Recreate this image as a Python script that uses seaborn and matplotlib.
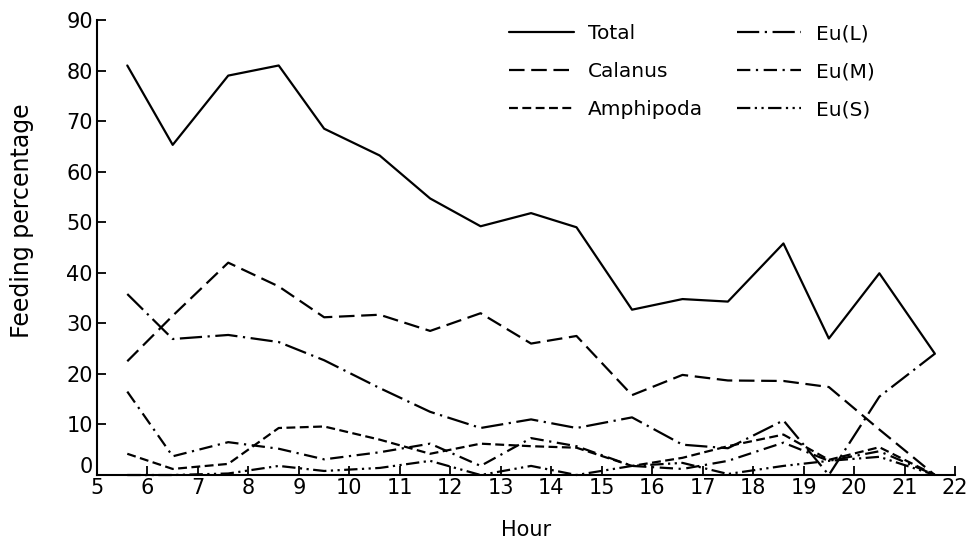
import pandas as pd
import seaborn as sns
import matplotlib.pyplot as plt
from matplotlib.transforms import ScaledTranslation

# Hour of sampling (mid-points of the hourly bins)
hours = [5.6, 6.5, 7.6, 8.6, 9.5, 10.6, 11.6, 12.6, 13.6, 14.5, 15.6, 16.6, 17.5, 18.6, 19.5, 20.5, 21.6]

# Feeding percentage
total = [81, 65.3, 79, 81, 68.5, 63.2, 54.7, 49.2, 51.8, 49, 32.7, 34.8, 34.3, 45.8, 27, 39.9, 24]
calanus = [22.5, 31.5, 42, 37.3, 31.2, 31.7, 28.5, 32, 26, 27.5, 15.8, 19.8, 18.7, 18.6, 17.4, 9, 0]
amphipoda = [4.2, 1.2, 2.2, 9.3, 9.6, 7, 4.2, 6.2, 5.7, 5.4, 1.8, 3.4, 5.7, 8, 3, 5.5, 0]
eu_l = [35.8, 26.9, 27.7, 26.3, 22.7, 17.2, 12.5, 9.3, 11, 9.3, 11.4, 6, 5.3, 10.8, 0, 15.5, 24]
eu_m = [16.5, 3.7, 6.5, 5.2, 3.1, 4.5, 6.2, 1.8, 7.3, 5.7, 1.8, 1.2, 2.8, 6.4, 2.8, 4.7, 0]
eu_s = [0, 0, 0.3, 1.8, 0.8, 1.4, 2.8, 0, 1.8, 0, 1.8, 2.4, 0.2, 1.8, 2.8, 3.6, 0]

series = {
    "Total": total,
    "Calanus": calanus,
    "Amphipoda": amphipoda,
    "Eu(L)": eu_l,
    "Eu(M)": eu_m,
    "Eu(S)": eu_s,
}

rows = []
for name, vals in series.items():
    for h, v in zip(hours, vals):
        rows.append({"Hour": h, "Feeding": v, "Series": name})
df = pd.DataFrame(rows)

dash_map = {
    "Total": "",
    "Calanus": (7, 3),
    "Amphipoda": (4, 2),
    "Eu(L)": (10, 2.5, 1, 2.5),
    "Eu(M)": (6, 2.5, 1, 2.5),
    "Eu(S)": (6, 2, 1, 2, 1, 2),
}

sns.set_style("ticks")
plt.rcParams["font.family"] = ["DejaVu Sans"]
plt.rcParams.update({"text.color": "black", "axes.labelcolor": "black",
                     "xtick.color": "black", "ytick.color": "black",
                     "axes.edgecolor": "black"})

fig = plt.figure(figsize=(9.69, 5.43), dpi=100)
ax = fig.add_axes([0.1001, 0.1252, 0.8855, 0.838])

sns.lineplot(data=df, x="Hour", y="Feeding", style="Series", dashes=dash_map,
             color="black", linewidth=1.6, sort=False, estimator=None, ax=ax,
             clip_on=False)

ax.set_xlim(5, 22)
ax.set_ylim(0, 90)
ax.set_xticks(range(5, 23))
ax.set_yticks(range(0, 91, 10))
sns.despine(ax=ax)
for s in ["left", "bottom"]:
    ax.spines[s].set_linewidth(1.5)
ax.tick_params(direction="in", length=6.5, width=1.3, labelsize=15)
ax.tick_params(axis="x", pad=2)
ax.tick_params(axis="y", pad=3)

# the "0" label sits a little above the axis line in the original
lab0 = ax.get_yticklabels()[0]
lab0.set_transform(lab0.get_transform() + ScaledTranslation(0, 7 / 72, fig.dpi_scale_trans))

ax.set_xlabel("Hour", fontsize=15, labelpad=16)
ax.set_ylabel("Feeding percentage", fontsize=17)
ax.yaxis.set_label_coords(-0.074, 0.56)

handles, labels = ax.get_legend_handles_labels()
leg = ax.legend(handles, labels, ncol=2, frameon=False, fontsize=14.5,
                loc="upper left", bbox_to_anchor=(501 / 969, 1 - 16 / 543),
                bbox_transform=fig.transFigure, handlelength=3.2, handletextpad=0.7,
                columnspacing=1.7, labelspacing=0.95, borderaxespad=0)
for t in leg.get_texts():
    t.set_color("black")

fig.savefig("out.png", dpi=100)
